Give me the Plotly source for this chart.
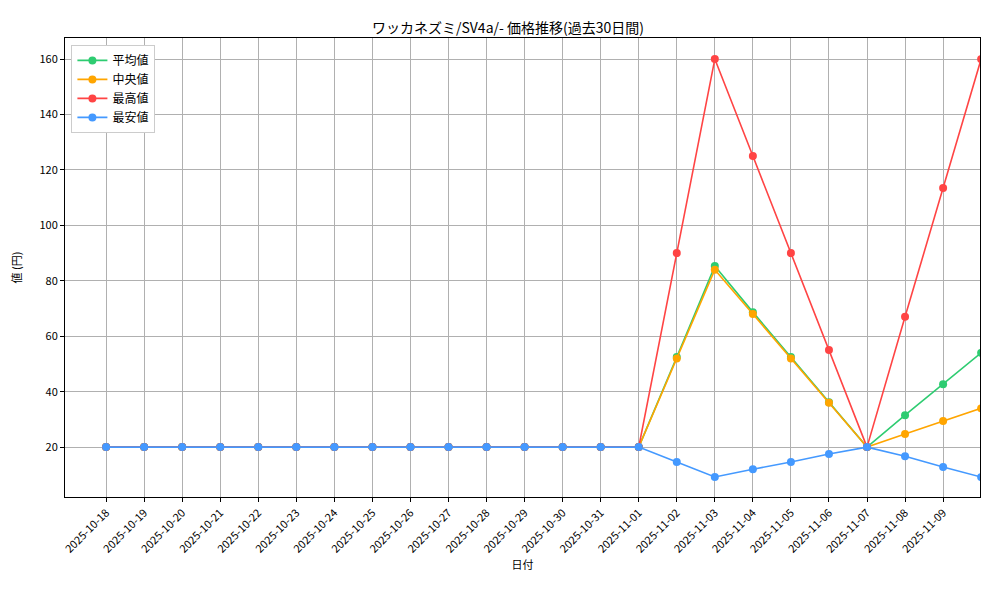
import plotly.graph_objects as go

dates = ["2025-10-%02d" % d for d in range(18, 32)] + ["2025-11-%02d" % d for d in range(1, 11)]
flat = [20] * 15
avg = flat + [52.5, 85.3, 68.7, 52.5, 36.2, 20, 31.5, 42.7, 54]
med = flat + [52, 84, 68, 52, 36, 20, 24.7, 29.4, 34]
mx = flat + [90, 160, 125, 90, 55, 20, 67, 113.5, 160]
mn = flat + [14.6, 9.2, 12, 14.6, 17.5, 20, 16.7, 12.8, 9.2]

series = [("平均値", avg, "#2ecc71"), ("中央値", med, "#ffa500"),
          ("最高値", mx, "#ff4444"), ("最安値", mn, "#4499ff")]
F = "Noto Sans CJK JP"
fig = go.Figure()
for name, ys, c in series:
    fig.add_trace(go.Scatter(x=dates, y=ys, name=name, mode="lines+markers",
                             line=dict(color=c, width=1.6), marker=dict(color=c, size=8)))
ax = dict(showline=True, mirror=True, linecolor="black", linewidth=1,
          showgrid=True, gridcolor="#b0b0b0", gridwidth=1, ticks="outside",
          tickcolor="black", ticklen=4, zeroline=False, tickfont=dict(size=11, color="black"))
fig.update_layout(
    width=1000, height=600, plot_bgcolor="white", paper_bgcolor="white",
    font=dict(family=F, color="black"),
    margin=dict(l=57, r=28, t=30, b=111, autoexpand=False),
    title=dict(text="ワッカネズミ/SV4a/- 価格推移(過去30日間)", x=0.5, xanchor="center",
               y=0.975, font=dict(size=14)),
    xaxis=dict(ax, type="category", autorange=False, range=[-1.08, 22.97], tickangle=-45,
               title=dict(text="日付", font=dict(size=11), standoff=6)),
    yaxis=dict(ax, autorange=False, range=[2, 167.6], tickvals=[20, 40, 60, 80, 100, 120, 140, 160],
               title=dict(text="値 (円)", font=dict(size=11))),
    legend=dict(x=0.007, y=0.985, xanchor="left", yanchor="top", bgcolor="white",
                bordercolor="#cccccc", borderwidth=1, font=dict(size=12)),
)
fig.write_html("out.html")
